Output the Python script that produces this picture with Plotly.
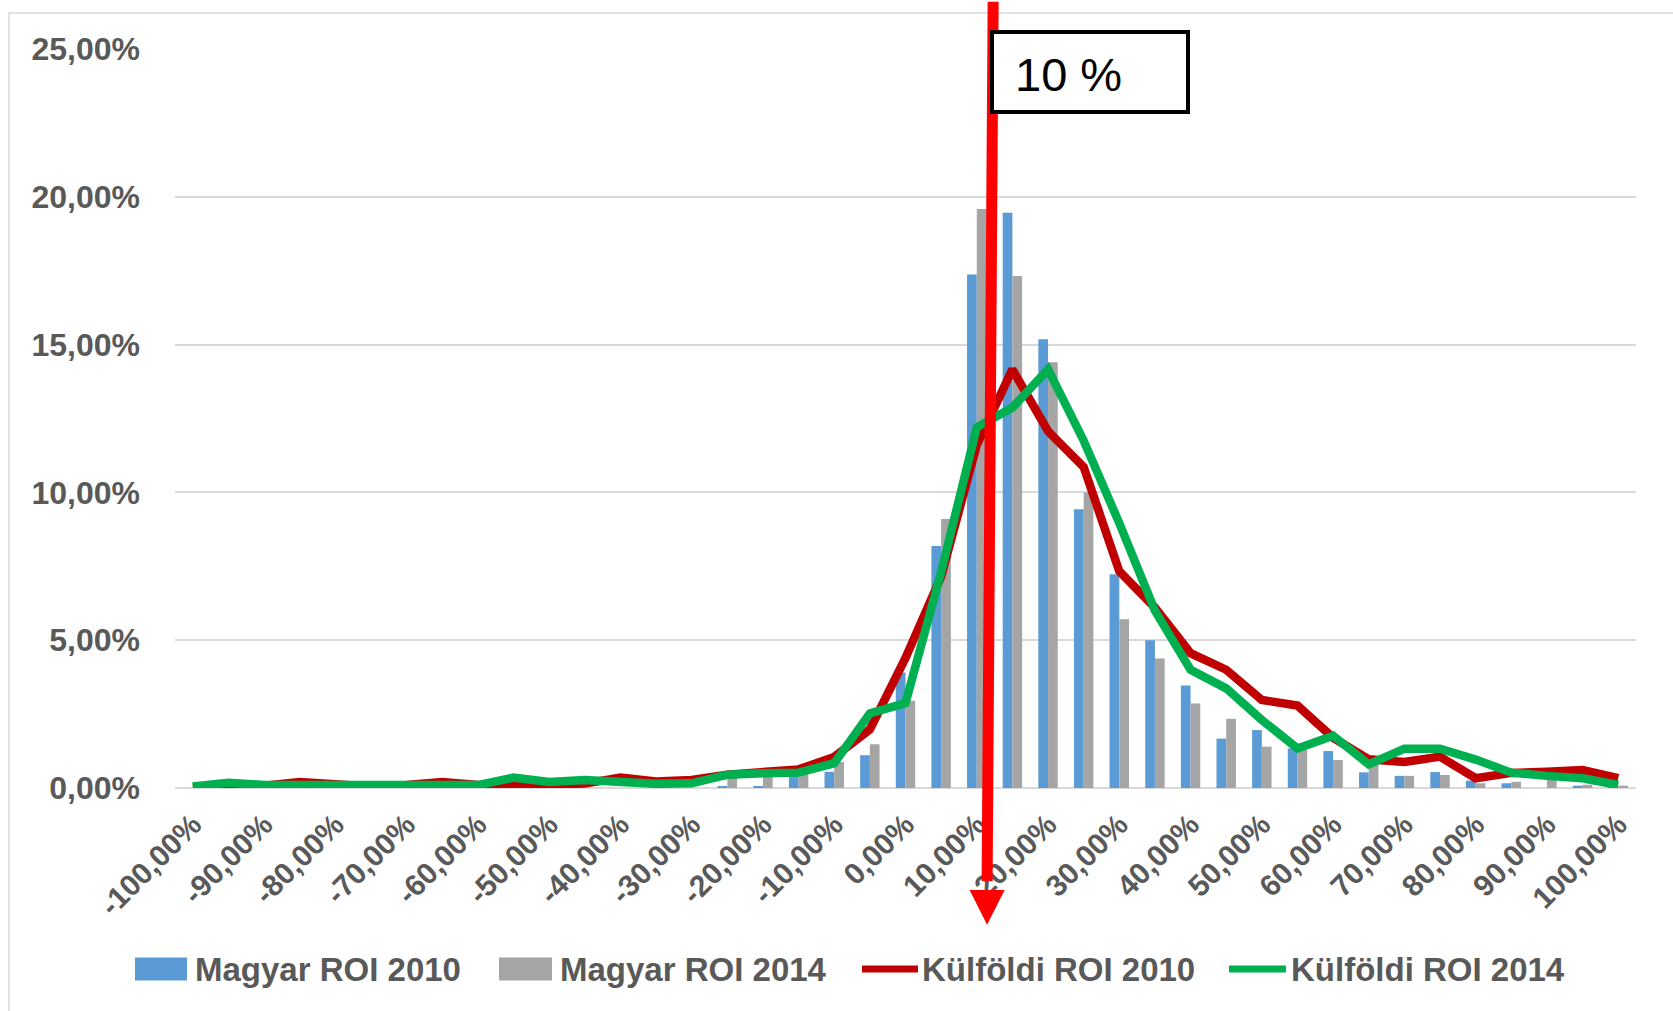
import plotly.graph_objects as go

# ---------------- data (percent values) ----------------
roi_bins = list(range(-100, 105, 5))  # ROI categories, -100% .. 100%

magyar_2010 = [0, 0, 0, 0, 0, 0, 0, 0, 0, 0, 0, 0, 0, 0, 0,
               0.06, 0.06, 0.45, 0.55, 1.11, 3.91, 8.19, 17.37, 19.46, 15.18,
               9.43, 7.23, 5.00, 3.47, 1.67, 1.96, 1.34, 1.25, 0.53, 0.41,
               0.54, 0.25, 0.16, 0.0, 0.08, 0.02]
magyar_2014 = [0, 0, 0, 0, 0, 0, 0, 0, 0, 0, 0, 0, 0, 0, 0,
               0.33, 0.40, 0.48, 0.88, 1.48, 2.95, 9.10, 19.59, 17.32, 14.40,
               10.0, 5.71, 4.38, 2.86, 2.34, 1.40, 1.30, 0.95, 0.78, 0.41,
               0.44, 0.16, 0.21, 0.27, 0.11, 0.08]
kulfoldi_2010 = [0.02, 0.05, 0.08, 0.20, 0.10, 0.05, 0.10, 0.20, 0.10, 0.08,
                 0.12, 0.15, 0.35, 0.22, 0.27, 0.45, 0.55, 0.63, 1.05, 1.98,
                 4.40, 7.15, 11.6, 14.16, 12.07, 10.86, 7.33, 6.10, 4.56, 4.00,
                 2.98, 2.79, 1.70, 0.97, 0.88, 1.06, 0.33, 0.51, 0.55, 0.61, 0.33]
kulfoldi_2014 = [0.05, 0.18, 0.10, 0.10, 0.15, 0.10, 0.10, 0.10, 0.10, 0.35,
                 0.20, 0.27, 0.18, 0.14, 0.16, 0.45, 0.50, 0.52, 0.84, 2.52,
                 2.87, 7.3, 12.2, 12.87, 14.16, 11.75, 8.96, 6.0, 4.0, 3.37,
                 2.30, 1.34, 1.77, 0.80, 1.33, 1.33, 0.96, 0.52, 0.41, 0.33, 0.10]

series_names = ["Magyar ROI 2010", "Magyar ROI 2014", "Külföldi ROI 2010", "Külföldi ROI 2014"]
series_colors = ["#5B9BD5", "#A5A5A5", "#C00000", "#00B050"]


def pct_label(v):
    return f"{v:.2f}".replace(".", ",") + "%"


tick_vals = roi_bins[::2]
tick_text = [pct_label(v) for v in tick_vals]
y_ticks = [0, 5, 10, 15, 20, 25]
y_tick_text = [pct_label(v) for v in y_ticks]

marker_value = 10  # the "10 %" threshold label
arrow_top_x, arrow_bottom_x = 12.3, 11.45  # arrow drawn near the 10% category

# ---------------- layout geometry ----------------
W, H = 1673, 1011
ML, MR, MT, MB = 175, 37, 49, 223
PW, PH = W - ML - MR, H - MT - MB
X_RANGE = [roi_bins[0] - 2.5, roi_bins[-1] + 2.5]
Y_RANGE = [0, 25]


def xpaper(px):
    return (px - ML) / PW


def ypaper(py):
    return (H - MB - py) / PH


def xd(v):
    return (v - X_RANGE[0]) / (X_RANGE[1] - X_RANGE[0])


def yd(v):
    return (v - Y_RANGE[0]) / (Y_RANGE[1] - Y_RANGE[0])


FONT = "Liberation Sans, Arial, sans-serif"
TXT = "#595959"
GRID = "#D9D9D9"

fig = go.Figure()
fig.add_trace(go.Bar(x=roi_bins, y=magyar_2010, name=series_names[0],
                     marker=dict(color=series_colors[0], line=dict(width=0))))
fig.add_trace(go.Bar(x=roi_bins, y=magyar_2014, name=series_names[1],
                     marker=dict(color=series_colors[1], line=dict(width=0))))
fig.add_trace(go.Scatter(x=roi_bins, y=kulfoldi_2010, name=series_names[2], mode="lines",
                         line=dict(color=series_colors[2], width=8.5)))
fig.add_trace(go.Scatter(x=roi_bins, y=kulfoldi_2014, name=series_names[3], mode="lines",
                         line=dict(color=series_colors[3], width=8.5)))

shapes = []
annotations = []

# outer chart border
shapes.append(dict(type="rect", xref="paper", yref="paper",
                   x0=xpaper(9), x1=xpaper(W + 10), y0=ypaper(H + 10), y1=ypaper(13),
                   line=dict(color=GRID, width=1.5), layer="below"))

# red arrow
y_top, y_head, y_tip = 26.6, -3.45, -4.63
shapes.append(dict(type="line", xref="paper", yref="paper",
                   x0=xd(arrow_top_x), y0=yd(y_top), x1=xd(arrow_bottom_x), y1=yd(y_head + 0.3),
                   line=dict(color="#FF0000", width=11)))
hw = 2.46
shapes.append(dict(type="path", xref="paper", yref="paper",
                   path=(f"M {xd(arrow_bottom_x - hw)} {yd(y_head)} L {xd(arrow_bottom_x + hw)} {yd(y_head)} "
                         f"L {xd(arrow_bottom_x)} {yd(y_tip)} Z"),
                   fillcolor="#FF0000", line=dict(color="#FF0000", width=0)))

# "10 %" label box
shapes.append(dict(type="rect", xref="paper", yref="paper",
                   x0=xpaper(992), x1=xpaper(1188), y0=ypaper(112), y1=ypaper(32),
                   fillcolor="white", line=dict(color="black", width=4)))
annotations.append(dict(text=f"{marker_value} %", xref="paper", yref="paper",
                        x=xpaper(1013), y=ypaper(74), xanchor="left", yanchor="middle",
                        showarrow=False, font=dict(family=FONT, size=47, color="black")))

# legend (drawn manually to match the Excel-style wide keys)
leg_y = 969
leg_items = [
    ("rect", 135, 187, 193),
    ("rect", 499, 552, 558),
    ("line", 862, 918, 920),
    ("line", 1229, 1286, 1289),
]
for (kind, a, b, tx), name, col in zip(leg_items, series_names, series_colors):
    if kind == "rect":
        shapes.append(dict(type="rect", xref="paper", yref="paper",
                           x0=xpaper(a), x1=xpaper(b), y0=ypaper(leg_y + 11.5), y1=ypaper(leg_y - 11.5),
                           fillcolor=col, line=dict(width=0)))
    else:
        shapes.append(dict(type="line", xref="paper", yref="paper",
                           x0=xpaper(a), x1=xpaper(b), y0=ypaper(leg_y), y1=ypaper(leg_y),
                           line=dict(color=col, width=7)))
    annotations.append(dict(text=name, xref="paper", yref="paper", x=xpaper(tx), y=ypaper(leg_y),
                            xanchor="left", yanchor="middle", showarrow=False,
                            font=dict(family=FONT, size=33, color=TXT, weight="bold")))

fig.update_layout(
    width=W, height=H,
    margin=dict(l=ML, r=MR, t=MT, b=MB, pad=0),
    paper_bgcolor="white", plot_bgcolor="white",
    showlegend=False,
    barmode="group", bargap=0.455, bargroupgap=0,
    shapes=shapes, annotations=annotations,
    font=dict(family=FONT, color=TXT),
    xaxis=dict(range=X_RANGE, tickmode="array", tickvals=tick_vals, ticktext=tick_text,
               tickangle=-45, showgrid=False, zeroline=False, showline=False, ticks="",
               tickfont=dict(family=FONT, size=30, color=TXT, weight="bold"),
               ticklabelstandoff=12),
    yaxis=dict(range=Y_RANGE, tickmode="array", tickvals=y_ticks, ticktext=y_tick_text,
               showgrid=True, gridcolor=GRID, gridwidth=1.5,
               zeroline=True, zerolinecolor=GRID, zerolinewidth=1.5, showline=False, ticks="",
               tickfont=dict(family=FONT, size=32, color=TXT, weight="bold"),
               ticklabelstandoff=34),
)

fig.write_html("out.html", config={"displayModeBar": False},
               post_script="document.body.style.margin='0';document.body.style.overflow='hidden';")
